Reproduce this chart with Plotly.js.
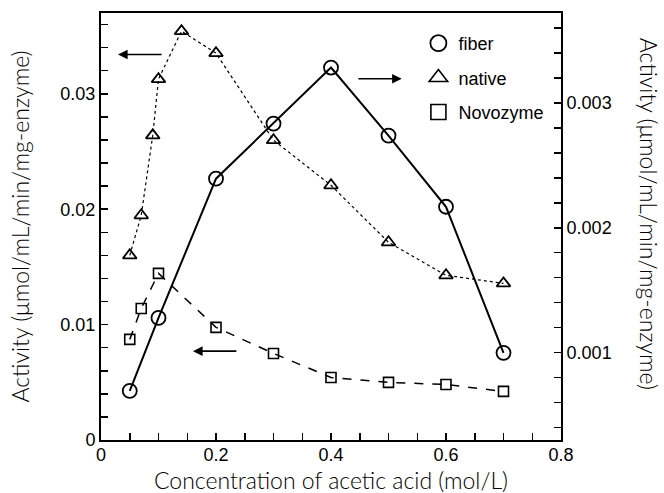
<!DOCTYPE html>
<html>
<head>
<meta charset="utf-8">
<script src="https://cdn.plot.ly/plotly-3.0.1.min.js"></script>
<style>html,body{margin:0;padding:0;background:#fff}#chart{width:664px;height:493px}</style>
</head>
<body>
<div id="chart"></div>
<script>
// Concentration of acetic acid (mol/L)
const fiberX = [0.05, 0.1, 0.2, 0.3, 0.4, 0.5, 0.6, 0.7];
const fiberY = [0.000693, 0.001278, 0.002393, 0.002834, 0.003283, 0.002738, 0.002168, 0.000998];

const nativeX = [0.05, 0.07, 0.09, 0.1, 0.14, 0.2, 0.3, 0.4, 0.5, 0.6, 0.7];
const nativeY = [0.0160, 0.01947, 0.0264, 0.03127, 0.03543, 0.03352, 0.02598, 0.02207, 0.01713, 0.01427, 0.01357];

const novoX = [0.05, 0.07, 0.1, 0.2, 0.3, 0.4, 0.5, 0.6, 0.7];
const novoY = [0.00872, 0.0114, 0.01444, 0.00976, 0.0075, 0.00542, 0.00499, 0.00481, 0.00421];

const seriesNames = ["fiber", "native", "Novozyme"];
const xTickVals = [0, 0.2, 0.4, 0.6, 0.8];
const yLeftTickVals = [0, 0.01, 0.02, 0.03];
const yRightTickVals = [0.001, 0.002, 0.003];

const xTitle = "Concentration of acetic acid (mol/L)";
const yTitle = "Activity (μmol/mL/min/mg-enzyme)";

const tickFont = {family: "Liberation Sans, Arial, sans-serif", size: 18, color: "#000"};
const titleFont = {family: "Lato, sans-serif", size: 23, color: "#000", weight: 300};

const traces = [
  {x: fiberX, y: fiberY, yaxis: "y2", mode: "lines+markers", showlegend: false,
   line: {color: "#000", width: 2, dash: "solid"},
   marker: {symbol: "circle-open", size: 14, color: "#000", line: {width: 1.8, color: "#000"}}},
  {x: nativeX, y: nativeY, mode: "lines+markers", showlegend: false,
   line: {color: "#000", width: 1.2, dash: "dot"},
   marker: {symbol: "triangle-up-open", size: 12, color: "#000", line: {width: 1.8, color: "#000"}}},
  {x: novoX, y: novoY, mode: "lines+markers", showlegend: false,
   line: {color: "#000", width: 1.5, dash: "dash"},
   marker: {symbol: "square-open", size: 10, color: "#000", line: {width: 1.6, color: "#000"}}},
  // legend-only entries (markers only)
  {x: [null], y: [null], name: seriesNames[0], mode: "markers", legendgroup: "a",
   marker: {symbol: "circle-open", size: 16, color: "#000", line: {width: 1.8, color: "#000"}}},
  {x: [null], y: [null], name: seriesNames[1], mode: "markers", legendgroup: "b",
   marker: {symbol: "triangle-up-open", size: 16, color: "#000", line: {width: 1.6, color: "#000"}}},
  {x: [null], y: [null], name: seriesNames[2], mode: "markers", legendgroup: "c",
   marker: {symbol: "square-open", size: 15, color: "#000", line: {width: 1.6, color: "#000"}}}
];

function arrow(xHead, xTail, yv) {
  return {x: xHead, y: yv, ax: xTail, ay: yv, xref: "x", yref: "y", axref: "x", ayref: "y",
          text: "", showarrow: true, arrowhead: 2, arrowsize: 1.2, arrowwidth: 1.6, arrowcolor: "#000"};
}

const layout = {
  width: 664, height: 493,
  margin: {l: 101, r: 103, t: 13, b: 53},
  paper_bgcolor: "#fff", plot_bgcolor: "#fff",
  showlegend: true,
  legend: {x: 0.69, y: 0.972, xanchor: "left", yanchor: "top", bgcolor: "rgba(0,0,0,0)",
           font: {family: "Liberation Sans, Arial, sans-serif", size: 18, color: "#000"},
           traceorder: "grouped", tracegroupgap: 8, itemwidth: 30},
  xaxis: {range: [0, 0.8], tickvals: xTickVals, ticktext: xTickVals.map(String),
          ticks: "inside", ticklen: 7, tickwidth: 1.5, tickcolor: "#000", ticklabelstandoff: -3,
          minor: {dtick: 0.05, tick0: 0, ticks: "inside", ticklen: 7, tickwidth: 1.5, tickcolor: "#000"},
          showline: true, linewidth: 2, linecolor: "#000", mirror: true,
          showgrid: false, zeroline: false, tickfont: tickFont},
  yaxis: {range: [0, 0.037], tickvals: yLeftTickVals, ticktext: ["0", "0.01", "0.02", "0.03"],
          ticks: "inside", ticklen: 7, tickwidth: 1.5, tickcolor: "#000",
          minor: {dtick: 0.002, tick0: 0, ticks: "inside", ticklen: 7, tickwidth: 1.5, tickcolor: "#000"},
          showline: true, linewidth: 2, linecolor: "#000",
          showgrid: false, zeroline: false, tickfont: tickFont,
          title: {text: yTitle, font: titleFont, standoff: 24}},
  yaxis2: {range: [0.0003, 0.00372], overlaying: "y", side: "right",
           tickvals: yRightTickVals, ticktext: ["0.001", "0.002", "0.003"],
           ticks: "inside", ticklen: 7, tickwidth: 1.5, tickcolor: "#000",
           minor: {dtick: 0.0002, tick0: 0, ticks: "inside", ticklen: 7, tickwidth: 1.5, tickcolor: "#000"},
           showline: true, linewidth: 2, linecolor: "#000",
           showgrid: false, zeroline: false, tickfont: tickFont},
  annotations: [
    arrow(0.0296, 0.108, 0.0334),
    arrow(0.523, 0.445, 0.0313),
    arrow(0.16, 0.238, 0.0077),
    {x: 0.5, y: 0, xref: "paper", yref: "paper", yshift: -40, text: xTitle,
     showarrow: false, font: titleFont, xanchor: "center", yanchor: "middle", borderpad: 0},
    {x: 1.191, y: 0.53, xref: "paper", yref: "paper", text: yTitle, textangle: 90,
     showarrow: false, font: titleFont, xanchor: "center", yanchor: "middle"}
  ]
};

Plotly.newPlot("chart", traces, layout, {displayModeBar: false, staticPlot: true});
</script>
</body>
</html>
